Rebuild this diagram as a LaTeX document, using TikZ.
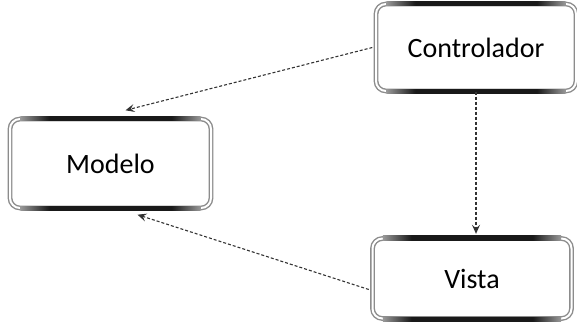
\documentclass[tikz,border=0pt]{standalone}
\usepackage{fontspec}
\setmainfont{Carlito}
\usetikzlibrary{arrows.meta,calc}
% dark in the middle, fading to the frame grey at both ends
\pgfdeclarehorizontalshading{edgeshade}{100bp}{color(0bp)=(black!40); color(25bp)=(black!40); color(33bp)=(black!90); color(67bp)=(black!90); color(75bp)=(black!40); color(100bp)=(black!40)}
\tikzset{
  box/.style={rounded corners=10pt, draw=black!45, double=white, double distance=2pt,
    line width=1.4pt, fill=white, inner sep=0pt, font=\fontsize{28pt}{31pt}\selectfont,
    text=black},
  flow/.style={line width=1.1pt, dash pattern=on 3pt off 2pt, black!80,
    -{Stealth[length=9pt,width=8pt,inset=3.5pt]}},
  bar/.style={shading=edgeshade},
}
% dark shaded strips over the top and bottom edges of a box
\newcommand\edgebars[1]{%
  \shade[bar] ($(#1.north west)+(11pt,-2.2pt)$) rectangle ($(#1.north east)+(-11pt,2.2pt)$);
  \shade[bar] ($(#1.south west)+(11pt,-2.2pt)$) rectangle ($(#1.south east)+(-11pt,2.2pt)$);
}
\begin{document}
\begin{tikzpicture}[x=1pt,y=-1pt]
\useasboundingbox (0,0) rectangle (577,321);
\node[box, minimum width=200pt, minimum height=87pt] (ctrl) at (476,47.5) {Controlador};
\node[box, minimum width=201pt, minimum height=89pt] (mod) at (110.5,163.5) {Modelo};
\node[box, minimum width=199pt, minimum height=80pt] (vista) at (472,278.5) {Vista};
\edgebars{ctrl}
\edgebars{mod}
\edgebars{vista}
\draw[flow] ([xshift=-3pt]ctrl.west) -- ([xshift=15pt,yshift=8pt]mod.north);
\draw[flow] (ctrl.south) -- ([yshift=4pt]ctrl.south |- vista.north);
\draw[flow] ([xshift=-3pt,yshift=-11pt]vista.west) -- ([xshift=27pt,yshift=-6pt]mod.south);
\end{tikzpicture}
\end{document}
